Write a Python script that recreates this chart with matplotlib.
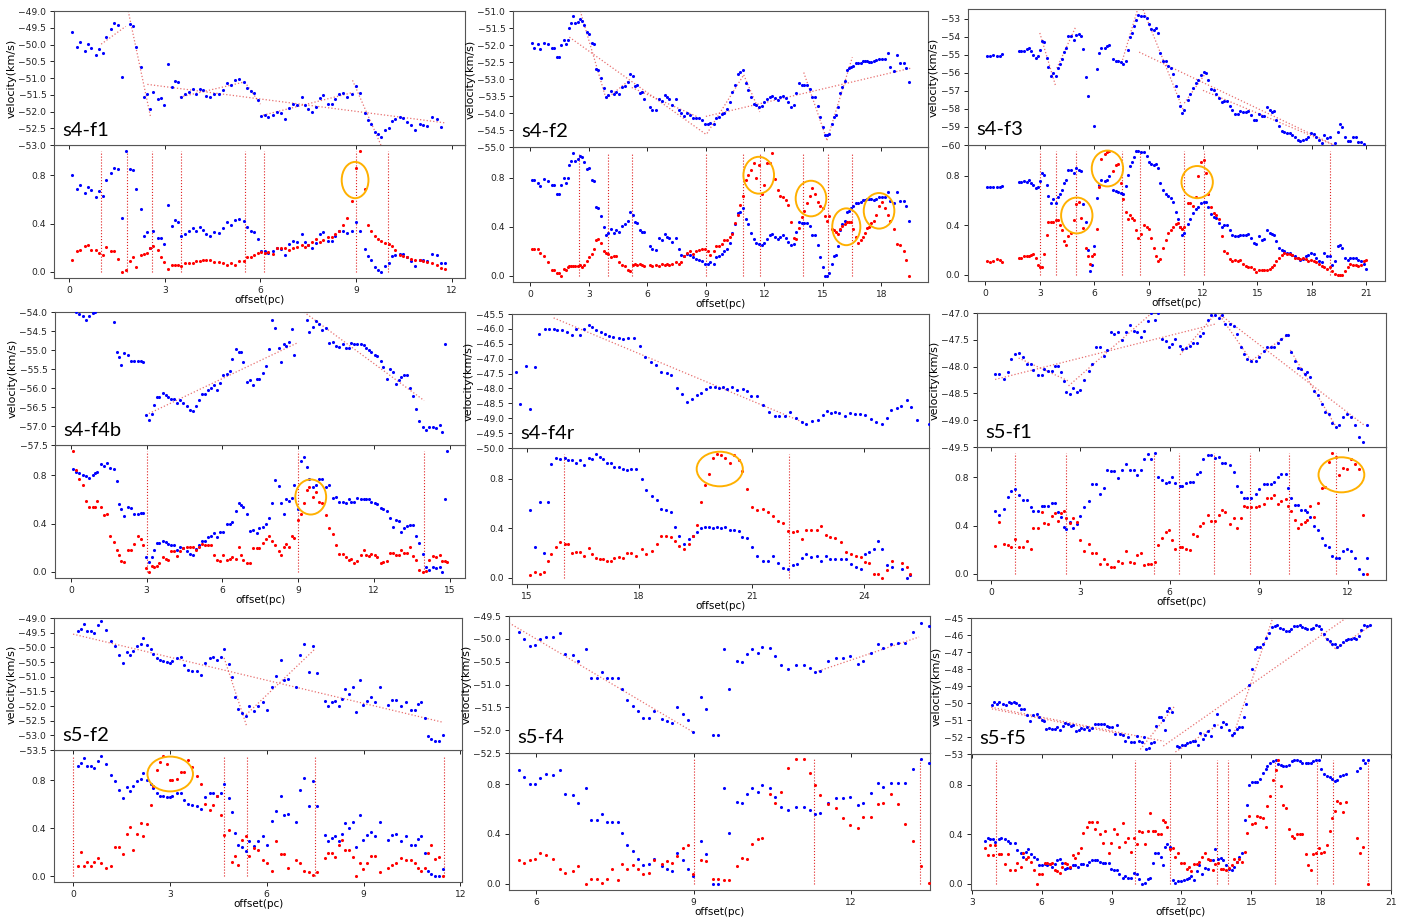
import numpy as np
import matplotlib
matplotlib.use('Agg')
import matplotlib.pyplot as plt
from matplotlib.patches import Ellipse
from matplotlib.ticker import MultipleLocator

nan = np.nan
W, H = 1413, 921

# ---------------- s4-f1 ----------------
s4f1_x = [0.1, 0.24, 0.35, 0.48, 0.59, 0.69, 0.83, 0.92, 1.06, 1.16,
          1.3, 1.4, 1.53, 1.64, 1.79, 1.9, 2.0, 2.1, 2.24, 2.35,
          2.44, 2.54, 2.64, 2.79, 2.88, 2.97, 3.11, 3.21, 3.32, 3.41,
          3.51, 3.64, 3.75, 3.88, 3.99, 4.09, 4.19, 4.29, 4.42, 4.55,
          4.69, 4.83, 4.96, 5.07, 5.2, 5.34, 5.48, 5.58, 5.69, 5.79,
          5.92, 6.02, 6.15, 6.25, 6.38, 6.51, 6.64, 6.77, 6.91, 7.02,
          7.15, 7.29, 7.39, 7.5, 7.63, 7.74, 7.87, 7.97, 8.12, 8.24,
          8.35, 8.45, 8.59, 8.72, 8.86, 8.99, 9.13, 9.27, 9.37, 9.48,
          9.58, 9.68, 9.78, 9.92, 10.02, 10.13, 10.23, 10.37, 10.47, 10.6,
          10.72, 10.86, 11.0, 11.1, 11.24, 11.37, 11.53, 11.66, 11.8]
s4f1_vel = [-49.63, -50.06, -49.93, -50.19, -49.99, -50.11, -50.31, -50.13, -50.24, -49.77,
            -49.55, -49.36, -49.42, -50.97, nan, -49.39, -49.45, -50.06, -50.68, -51.56,
            -51.49, -51.94, -51.41, -51.64, -51.61, -51.82, -50.59, -51.26, -51.08, -51.12,
            -51.58, -51.49, -51.41, -51.34, -51.47, -51.32, -51.37, -51.55, -51.57, -51.47,
            -51.49, -51.37, -51.15, -51.21, -51.06, -51.02, -51.11, -51.31, -51.39, -51.46,
            -51.66, -52.12, -52.1, -52.16, -52.11, -52.0, -52.05, -52.23, -51.9, -51.77,
            -51.8, -51.58, -51.8, -51.94, -52.01, -51.86, -51.59, -51.5, -51.77, -51.77,
            -51.64, -51.49, -51.46, -51.56, -51.47, -51.23, -51.46, -52.04, -52.26, -52.38,
            -52.61, -52.67, -52.75, -52.56, -52.49, -52.28, -52.21, -52.17, -52.19, -52.31,
            -52.41, -52.56, -52.37, -52.39, -52.42, -52.17, -52.22, -52.47, nan]
s4f1_blue = [0.80, 0.69, 0.72, 0.65, 0.70, 0.68, 0.62, 0.67, 0.63, 0.76,
             0.82, 0.86, 0.85, 0.45, 1.0, 0.855, 0.84, 0.69, 0.52, 0.30,
             0.33, 0.20, 0.34, 0.28, 0.28, 0.23, 0.55, 0.38, 0.43, 0.41,
             0.30, 0.31, 0.34, 0.36, 0.34, 0.37, 0.35, 0.31, 0.30, 0.33,
             0.32, 0.36, 0.41, 0.39, 0.43, 0.44, 0.42, 0.37, 0.34, 0.33,
             0.27, 0.17, 0.17, 0.16, 0.17, 0.20, 0.19, 0.14, 0.23, 0.26,
             0.25, 0.31, 0.25, 0.22, 0.20, 0.24, 0.31, 0.33, 0.26, 0.26,
             0.30, 0.34, 0.34, 0.32, 0.34, 0.41, 0.34, 0.19, 0.13, 0.10,
             0.04, 0.02, 0.0, 0.05, 0.07, 0.13, 0.14, 0.15, 0.15, 0.12,
             0.09, 0.05, 0.10, 0.10, 0.09, 0.15, 0.14, 0.07, 0.07]
s4f1_red = [0.10, 0.17, 0.18, 0.215, 0.225, 0.18, 0.185, 0.16, 0.14, 0.21,
            0.17, 0.17, 0.11, 0.0, 0.02, 0.09, 0.12, 0.04, 0.14, 0.15,
            0.16, 0.20, 0.215, 0.18, 0.12, 0.08, 0.025, 0.06, 0.06, 0.06,
            0.05, 0.07, 0.07, 0.075, 0.09, 0.09, 0.10, 0.10, 0.10, 0.08,
            0.08, 0.07, 0.055, 0.07, 0.055, 0.09, 0.09, 0.12, 0.12, 0.14,
            0.16, 0.165, 0.16, 0.165, 0.15, 0.20, 0.195, 0.20, 0.185, 0.20,
            0.205, 0.22, 0.205, 0.22, 0.245, 0.27, 0.25, 0.265, 0.29, 0.285,
            0.31, 0.34, 0.39, 0.45, 0.59, 0.86, 1.0, 0.69, 0.39, 0.335,
            0.30, 0.27, 0.26, 0.24, 0.23, 0.215, 0.185, 0.14, 0.13, 0.12,
            0.11, 0.10, 0.10, 0.09, 0.08, 0.075, 0.055, 0.03, 0.025]
s4f1_fits = [(1.0, -49.99, 1.77, -49.46), (1.85, -49.0, 2.55, -52.16),
             (2.45, -51.19, 11.8, -52.34), (3.47, -51.57, 5.49, -51.12),
             (5.51, -51.12, 6.0, -51.78), (6.08, -52.11, 8.91, -51.43),
             (8.89, -51.07, 9.78, -53.0)]
s4f1_cuts = [1.0, 1.8, 2.6, 3.5, 5.5, 6.1, 9.0, 10.0]
s4f1_rings = [(8.97, 0.76, 0.84, 0.30)]

# ---------------- s4-f2 ----------------
s4f2_x = [0.07, 0.17, 0.38, 0.51, 0.72, 0.92, 1.13, 1.23, 1.37, 1.47,
          1.57, 1.71, 1.81, 1.91, 2.0, 2.1, 2.21, 2.31, 2.43, 2.53,
          2.65, 2.75, 2.91, 3.01, 3.15, 3.25, 3.38, 3.49, 3.64, 3.79,
          3.9, 4.0, 4.14, 4.27, 4.41, 4.55, 4.7, 4.85, 5.0, 5.11,
          5.25, 5.35, 5.47, 5.61, 5.71, 5.81, 6.12, 6.22, 6.43, 6.6,
          6.77, 6.91, 7.01, 7.13, 7.28, 7.49, 7.62, 7.73, 7.9, 8.05,
          8.21, 8.36, 8.51, 8.67, 8.82, 8.96, 9.09, 9.23, 9.4, 9.54,
          9.68, 9.81, 9.95, 10.09, 10.22, 10.36, 10.5, 10.63, 10.77, 10.91,
          11.04, 11.18, 11.32, 11.45, 11.59, 11.73, 11.86, 12.0, 12.14, 12.27,
          12.41, 12.55, 12.68, 12.82, 12.96, 13.09, 13.23, 13.37, 13.5, 13.64,
          13.78, 13.91, 14.05, 14.19, 14.32, 14.46, 14.6, 14.74, 14.87, 15.01,
          15.11, 15.21, 15.32, 15.45, 15.59, 15.69, 15.79, 15.9, 16.0, 16.14,
          16.24, 16.34, 16.44, 16.55, 16.68, 16.82, 16.96, 17.06, 17.16, 17.26,
          17.37, 17.47, 17.6, 17.74, 17.88, 18.03, 18.17, 18.36, 18.46, 18.63,
          18.8, 18.97, 19.15, 19.28, 19.42]
s4f2_vel = [-51.95, -52.09, -51.96, -52.13, -51.93, -51.96, -52.1, -52.1, -52.34, -52.34,
            -52.01, -51.85, -51.98, -51.85, -51.49, -51.35, -51.15, -51.35, -51.32, -51.23,
            -51.28, -51.42, -51.63, -51.67, -51.95, -51.98, -52.71, -52.73, -52.96, -53.25,
            -53.52, -53.47, -53.35, -53.45, -53.37, -53.43, -53.24, -53.22, -53.1, -52.84,
            -52.91, -53.2, -53.17, -53.42, -53.37, -53.6, -53.82, -53.92, -53.92, -53.59,
            -53.64, -53.47, -53.54, -53.59, -53.75, -53.6, -53.92, -53.99, -54.09, -54.01,
            -54.06, -54.14, -54.15, -54.16, -54.21, -54.33, -54.31, -54.29, -54.31, -54.16,
            -54.13, -54.03, -53.99, -53.87, -53.69, -53.39, -53.18, -52.85, -52.8, -52.73,
            -53.13, -53.33, -53.54, -53.74, -53.75, -53.82, -53.78, -53.69, -53.6, -53.52,
            -53.5, -53.56, -53.61, -53.54, -53.5, -53.56, -53.68, -53.82, -53.76, -53.42,
            -53.11, -53.18, -53.18, -53.18, -53.28, -53.52, -53.54, -53.8, -54.13, -54.41,
            -54.66, -54.66, -54.61, -54.31, -54.11, -54.06, -53.82, -53.4, -53.23, -53.05,
            -52.73, -52.69, -52.66, -52.61, -52.52, -52.52, -52.52, -52.47, -52.47, -52.47,
            -52.49, -52.49, -52.46, -52.44, -52.42, -52.42, -52.42, -52.24, -52.64, -52.75,
            -52.29, -52.54, -52.54, -52.68, -53.08]
s4f2_blue = [0.78, 0.78, 0.76, 0.73, 0.79, 0.77, 0.74, 0.74, 0.67, 0.67,
             0.74, 0.80, 0.76, 0.80, 0.90, 0.94, 1.0, 0.94, 0.95, 0.98,
             0.97, 0.93, 0.87, 0.88, 0.78, 0.77, 0.56, 0.55, 0.49, 0.40,
             0.33, 0.35, 0.38, 0.35, 0.37, 0.36, 0.41, 0.42, 0.45, 0.52,
             0.50, 0.44, 0.43, 0.37, 0.36, 0.36, 0.24, 0.22, 0.21, 0.31,
             0.29, 0.34, 0.32, 0.31, 0.28, 0.31, 0.22, 0.17, 0.16, 0.18,
             0.17, 0.15, 0.14, 0.13, 0.12, 0.10, 0.10, 0.11, 0.10, 0.15,
             0.16, 0.18, 0.20, 0.22, 0.27, 0.35, 0.42, 0.51, 0.52, 0.55,
             0.46, 0.42, 0.35, 0.30, 0.27, 0.26, 0.25, 0.27, 0.30, 0.33,
             0.34, 0.32, 0.30, 0.32, 0.33, 0.31, 0.28, 0.25, 0.26, 0.36,
             0.44, 0.43, 0.43, 0.43, 0.41, 0.33, 0.33, 0.25, 0.15, 0.07,
             0.0, 0.0, 0.02, 0.10, 0.16, 0.17, 0.24, 0.37, 0.42, 0.45,
             0.52, 0.53, 0.55, 0.57, 0.59, 0.59, 0.60, 0.62, 0.62, 0.63,
             0.63, 0.63, 0.62, 0.63, 0.64, 0.64, 0.64, 0.68, 0.61, 0.59,
             0.68, 0.61, 0.61, 0.57, 0.45]
s4f2_red = [0.22, 0.22, 0.22, 0.19, 0.16, 0.11, 0.05, 0.05, 0.02, 0.02,
            0.0, 0.06, 0.05, 0.07, 0.08, 0.08, 0.08, 0.08, 0.08, 0.09,
            0.07, 0.09, 0.12, 0.15, 0.18, 0.22, 0.29, 0.30, 0.27, 0.20,
            0.19, 0.18, 0.15, 0.16, 0.16, 0.11, 0.09, 0.08, 0.05, 0.04,
            0.09, 0.10, 0.09, 0.10, 0.09, 0.08, 0.09, 0.08, 0.09, 0.08,
            0.10, 0.09, 0.10, 0.09, 0.10, 0.11, 0.10, 0.11, 0.16, 0.19,
            0.20, 0.18, 0.20, 0.21, 0.22, 0.22, 0.20, 0.17, 0.20, 0.24,
            0.24, 0.26, 0.29, 0.29, 0.32, 0.34, 0.43, 0.50, 0.58, 0.65,
            0.78, 0.82, 0.86, 0.92, 0.80, 0.90, 0.67, 0.74, 0.92, 0.92,
            1.0, 0.79, 0.70, 0.65, 0.64, 0.62, 0.58, 0.44, 0.31, 0.30,
            0.39, 0.48, 0.53, 0.59, 0.65, 0.72, 0.67, 0.60, 0.57, 0.55,
            0.49, 0.45, 0.49, 0.38, 0.37, 0.36, 0.34, 0.38, 0.41, 0.42,
            0.44, 0.44, 0.44, 0.38, 0.32, 0.27, 0.29, 0.32, 0.35, 0.39,
            0.40, 0.43, 0.45, 0.50, 0.57, 0.60, 0.55, 0.50, 0.45, 0.38,
            0.26, 0.25, 0.20, 0.13, 0.0]
s4f2_fits = [(2.0, -51.77, 9.06, -54.65), (2.56, -51.0, 3.85, -53.52),
             (3.9, -53.58, 5.09, -53.03), (5.2, -53.25, 8.6, -54.12),
             (9.0, -54.1, 19.52, -52.68), (9.06, -54.6, 10.94, -52.88),
             (10.94, -52.88, 11.76, -53.97), (14.02, -52.81, 15.21, -54.8),
             (15.21, -54.8, 16.51, -52.36)]
s4f2_cuts = [2.5, 4.0, 5.2, 9.0, 10.9, 11.8, 14.0, 15.25, 16.5]
s4f2_rings = [(11.71, 0.82, 1.57, 0.30), (14.39, 0.63, 1.57, 0.29),
              (16.2, 0.40, 1.44, 0.30), (17.88, 0.53, 1.57, 0.29)]

# ---------------- s4-f3 ----------------
s4f3_x = [0.07, 0.26, 0.44, 0.63, 0.81, 0.92,
          1.86, 1.99, 2.13, 2.28, 2.41, 2.54, 2.65, 2.78, 2.91, 3.02,
          3.11, 3.24, 3.37, 3.48, 3.62, 3.75, 3.9, 3.99, 4.1, 4.23,
          4.34, 4.45, 4.56, 4.71, 4.88, 5.02, 5.15, 5.3, 5.41, 5.56,
          5.67, 5.78, 5.89, 6.0, 6.13, 6.24, 6.38, 6.59, 6.73, 6.84,
          7.05, 7.19, 7.34, 7.47, 7.6, 7.73, 7.84, 7.95, 8.06, 8.17,
          8.28, 8.43, 8.57, 8.72, 8.89, 9.02, 9.14, 9.31, 9.42, 9.53,
          9.64, 9.79, 9.94, 10.08, 10.23, 10.36, 10.49, 10.6, 10.71, 10.86,
          10.98, 11.15, 11.3, 11.44, 11.59, 11.74, 11.89, 12.03, 12.14, 12.29,
          12.44, 12.59, 12.73, 12.88, 13.03, 13.17, 13.32, 13.47, 13.62, 13.76,
          13.91, 14.06, 14.2, 14.35, 14.5, 14.65, 14.79, 14.94, 15.09, 15.23,
          15.38, 15.53, 15.68, 15.79, 15.9, 16.04, 16.19, 16.34, 16.49, 16.63,
          16.78, 16.93, 17.07, 17.22, 17.37, 17.52, 17.66, 17.81, 17.96, 18.11,
          18.25, 18.4, 18.55, 18.69, 18.84, 18.99, 19.14, 19.28, 19.43, 19.54,
          19.69, 19.83, 19.98, 20.13, 20.28, 20.42, 20.57, 20.72, 20.86, 21.0]
s4f3_vel = [-55.07, -55.07, -55.03, -55.07, -55.07, -54.96,
            -54.79, -54.79, -54.77, -54.68, -54.63, -54.77, -55.01, -55.2, -55.09, -54.72,
            -54.22, -54.31, -55.18, -55.66, -56.18, -55.99, -56.16, -55.75, -55.51, -55.24,
            -54.85, -54.63, -53.98, -53.98, -54.2, -53.89, -53.85, -53.98, -54.68, -56.23,
            -57.29, nan, nan, -58.95, -55.77, -54.92, -54.63, -54.63, -54.53, -54.44,
            -55.22, -55.37, -55.37, -55.4, -55.51, -55.33, -54.72, -54.02, -53.79, -53.43,
            -53.06, -52.8, -52.87, -52.87, -52.96, -53.3, -53.57, -53.61, -53.52, -53.79,
            -54.9, -55.33, -55.37, -55.61, -55.74, -56.05, -56.75, -57.31, -57.82, -58.23,
            -58.05, -57.53, -57.18, -56.84, -56.57, -56.38, -56.1, -55.98, -56.01, -56.42,
            -56.9, -56.97, -57.18, -57.4, -57.64, -57.55, -57.58, -57.82, -58.05, -58.27,
            -58.27, -58.14, -58.16, -58.16, -58.12, -58.34, -58.6, -58.6, -58.3, -58.41,
            -58.41, -57.9, -58.05, -58.16, -58.12, -58.6, -58.97, -59.25, -59.28, -59.34,
            -59.34, -59.43, -59.53, -59.71, -59.8, -59.75, -59.64, -59.56, -59.34, -59.38,
            -59.53, -59.75, -59.89, -59.45, -59.62, -59.53, -60.04, -59.89, -59.3, -58.82,
            -59.01, -59.58, -59.78, -59.8, -59.58, -59.58, -59.82, -59.86, -59.95, nan]
s4f3_blue = [0.71, 0.71, 0.71, 0.71, 0.71, 0.72,
             0.75, 0.75, 0.76, 0.75, 0.77, 0.74, 0.73, 0.70, 0.71, 0.76,
             0.82, 0.81, 0.73, 0.64, 0.58, 0.61, 0.58, 0.63, 0.65, 0.69,
             0.74, 0.77, 0.85, 0.85, 0.82, 0.86, 0.85, 0.84, 0.57, 0.43,
             0.20, 0.03, 0.08, 0.23, 0.62, 0.73, 0.77, 0.76, 0.77, 0.80,
             0.69, 0.68, 0.67, 0.66, 0.65, 0.72, 0.81, 0.88, 0.91, 0.95,
             1.0, 1.0, 0.99, 0.99, 0.96, 0.91, 0.90, 0.89, 0.90, 0.86,
             0.74, 0.69, 0.65, 0.64, 0.62, 0.59, 0.51, 0.45, 0.39, 0.32,
             0.34, 0.41, 0.45, 0.50, 0.53, 0.55, 0.58, 0.59, 0.59, 0.55,
             0.49, 0.47, 0.46, 0.42, 0.39, 0.40, 0.40, 0.36, 0.32, 0.31,
             0.31, 0.32, 0.32, 0.32, 0.33, 0.30, 0.26, 0.25, 0.31, 0.28,
             0.29, 0.36, 0.34, 0.33, 0.32, 0.27, 0.22, 0.20, 0.19, 0.18,
             0.18, 0.16, 0.15, 0.14, 0.12, 0.13, 0.15, 0.16, 0.18, 0.17,
             0.14, 0.11, 0.10, 0.18, 0.15, 0.15, 0.08, 0.11, 0.23, 0.24,
             0.22, 0.14, 0.12, 0.14, 0.14, 0.14, 0.12, 0.11, 0.09, 0.05]
s4f3_red = [0.11, 0.10, 0.11, 0.13, 0.12, 0.10,
            0.14, 0.14, 0.15, 0.15, 0.15, 0.16, 0.17, 0.14, 0.08, 0.06,
            0.06, 0.17, 0.32, 0.43, 0.43, 0.43, 0.44, 0.44, 0.40, 0.36,
            0.27, 0.24, 0.31, 0.34, 0.44, 0.57, 0.59, 0.46, 0.38, 0.22,
            0.15, 0.09, 0.15, 0.17, 0.37, 0.71, 0.94, 0.98, 0.99, 1.0,
            0.84, 0.89, 0.90, 0.74, 0.61, 0.51, 0.45, 0.48, 0.46, 0.44,
            0.36, 0.30, 0.33, 0.40, 0.39, 0.37, 0.30, 0.22, 0.15, 0.11,
            0.13, 0.22, 0.28, 0.34, 0.36, 0.39, 0.41, 0.42, 0.39, 0.37,
            0.39, 0.58, 0.58, 0.56, 0.63, 0.80, 0.91, 0.93, 0.82, 0.65,
            0.55, 0.50, 0.48, 0.45, 0.31, 0.19, 0.18, 0.13, 0.11, 0.12,
            0.11, 0.12, 0.09, 0.07, 0.06, 0.06, 0.05, 0.02, 0.04, 0.04,
            0.04, 0.04, 0.05, 0.06, 0.08, 0.11, 0.14, 0.16, 0.18, 0.17,
            0.17, 0.16, 0.14, 0.14, 0.13, 0.14, 0.13, 0.11, 0.12, 0.11,
            0.10, 0.09, 0.07, 0.06, 0.05, 0.06, 0.03, 0.01, 0.0, 0.0,
            0.0, 0.03, 0.06, 0.09, 0.08, 0.08, 0.07, 0.08, 0.11, 0.12]
s4f3_fits = [(3.0, -53.79, 3.88, -56.75), (3.94, -55.74, 4.99, -53.43),
             (7.51, -55.46, 8.39, -52.5), (8.7, -52.5, 10.91, -58.05),
             (8.48, -54.85, 19.28, -60.02), (10.97, -57.68, 12.2, -55.94),
             (12.0, -56.97, 19.25, -60.02)]
s4f3_cuts = [3.0, 3.9, 5.02, 7.51, 8.52, 10.98, 12.03, 19.0]
s4f3_rings = [(5.04, 0.48, 1.73, 0.29), (6.73, 0.86, 1.73, 0.29), (11.68, 0.75, 1.73, 0.26)]

# ---------------- s4-f4b ----------------
s4f4b_x = [0.1, 0.22, 0.33, 0.46, 0.59, 0.73, 0.86, 0.95, 1.05, 1.18,
           1.3, 1.43, 1.56, 1.7, 1.81, 1.9, 2.0, 2.1, 2.25, 2.38,
           2.51, 2.64, 2.77, 2.87, 2.97, 3.09, 3.2, 3.29, 3.4, 3.5,
           3.63, 3.75, 3.86, 3.96, 4.08, 4.21, 4.32, 4.45, 4.58, 4.72,
           4.85, 4.95, 5.09, 5.19, 5.32, 5.43, 5.54, 5.67, 5.8, 5.9,
           6.04, 6.17, 6.3, 6.38, 6.54, 6.64, 6.72, 6.83, 6.96, 7.09,
           7.23, 7.36, 7.46, 7.6, 7.73, 7.83, 7.97, 8.07, 8.23, 8.34,
           8.44, 8.52, 8.63, 8.76, 8.85, 9.0, 9.1, 9.22, 9.34, 9.45,
           9.58, 9.71, 9.84, 9.96, 10.11, 10.24, 10.37, 10.5, 10.63, 10.77,
           10.9, 11.0, 11.08, 11.22, 11.35, 11.48, 11.59, 11.69, 11.8, 11.9,
           12.03, 12.14, 12.27, 12.38, 12.54, 12.64, 12.75, 12.88, 12.99, 13.09,
           13.2, 13.3, 13.43, 13.57, 13.67, 13.8, 13.94, 14.07, 14.2, 14.33,
           14.46, 14.6, 14.7, 14.81, 14.9]
s4f4b_vel = [nan, -54.01, -54.04, -54.11, -54.2, -54.1, -54.03, -54.0, nan, nan,
             nan, nan, nan, -54.27, -55.04, -55.19, -55.39, -55.08, -55.14, -55.3,
             -55.3, -55.28, -55.3, -55.31, -56.7, -56.83, -56.68, -56.46, -56.24, -56.24,
             -56.14, -56.18, -56.23, -56.29, -56.29, -56.39, -56.31, -56.39, -56.48, -56.57,
             -56.6, -56.48, -56.31, -56.15, -56.15, -56.04, -56.0, -55.91, -56.04, -55.87,
             -55.65, -55.63, -55.56, -55.23, -54.97, -55.04, -55.06, -55.32, -55.85, -55.78,
             -55.91, -55.76, -55.75, -55.61, -55.43, -54.97, -54.22, -54.43, -54.95, -55.32,
             -54.83, -54.9, -54.8, -54.44, -55.12, nan, nan, nan, -54.21, -54.52,
             -54.39, -54.24, -54.31, -54.48, -54.41, -54.81, -54.8, -54.9, -54.92, -54.84,
             -54.95, -54.95, -54.82, -54.84, -54.84, -54.83, -54.86, -54.95, -54.99, -55.04,
             -55.12, -55.17, -55.3, -55.46, -55.75, -55.49, -55.59, -55.89, -55.78, -55.71,
             -55.67, -55.67, -56.0, -56.22, -56.55, -56.86, -57.02, -57.1, -57.03, -57.03,
             -57.04, -56.98, -57.16, -54.85, nan]
s4f4b_blue = [0.85, 0.83, 0.82, 0.80, 0.79, 0.78, 0.80, 0.82, 0.83, 0.89,
              0.88, 0.90, 0.86, 0.85, 0.75, 0.56, 0.52, 0.46, 0.54, 0.53,
              0.48, 0.48, 0.49, 0.49, 0.12, 0.08, 0.12, 0.18, 0.24, 0.24,
              0.26, 0.25, 0.23, 0.22, 0.22, 0.18, 0.21, 0.20, 0.17, 0.15,
              0.14, 0.19, 0.22, 0.26, 0.26, 0.29, 0.30, 0.32, 0.29, 0.33,
              0.33, 0.40, 0.40, 0.41, 0.50, 0.57, 0.55, 0.54, 0.48, 0.34,
              0.35, 0.32, 0.36, 0.37, 0.40, 0.45, 0.57, 0.76, 0.71, 0.57,
              0.48, 0.60, 0.59, 0.61, 0.72, 0.52, 0.92, 0.95, 0.87, 0.77,
              0.70, 0.72, 0.77, 0.77, 0.70, 0.72, 0.61, 0.62, 0.58, 0.58,
              0.57, 0.60, 0.58, 0.58, 0.61, 0.60, 0.60, 0.60, 0.60, 0.58,
              0.57, 0.56, 0.53, 0.52, 0.50, 0.45, 0.37, 0.43, 0.42, 0.33,
              0.36, 0.38, 0.39, 0.39, 0.30, 0.24, 0.15, 0.04, 0.02, 0.04,
              0.03, 0.04, 0.0, 0.60, 1.0]
s4f4b_red = [1.0, 0.84, 0.77, 0.72, 0.59, 0.54, 0.54, 0.54, 0.59, 0.54,
             0.47, 0.48, 0.30, 0.25, 0.18, 0.14, 0.09, 0.08, 0.18, 0.18,
             0.23, 0.30, 0.27, 0.22, 0.03, 0.0, 0.05, 0.04, 0.05, 0.07,
             0.12, 0.11, 0.10, 0.17, 0.17, 0.13, 0.17, 0.20, 0.21, 0.21,
             0.21, 0.18, 0.21, 0.23, 0.22, 0.22, 0.22, 0.14, 0.10, 0.09,
             0.14, 0.10, 0.11, 0.12, 0.11, 0.21, 0.14, 0.10, 0.07, 0.07,
             0.20, 0.20, 0.20, 0.24, 0.27, 0.30, 0.26, 0.22, 0.17, 0.14,
             0.21, 0.23, 0.21, 0.30, 0.28, 0.43, 0.48, 0.57, 0.68, 0.70,
             0.62, 0.66, 0.58, 0.57, 0.47, 0.36, 0.31, 0.22, 0.15, 0.15,
             0.12, 0.10, 0.11, 0.07, 0.09, 0.14, 0.18, 0.14, 0.13, 0.15,
             0.14, 0.12, 0.07, 0.08, 0.09, 0.16, 0.16, 0.14, 0.14, 0.18,
             0.16, 0.16, 0.21, 0.13, 0.10, 0.02, 0.0, 0.01, 0.10, 0.13,
             0.12, 0.14, 0.09, 0.09, 0.08]
s4f4b_fits = [(2.97, -56.71, 9.01, -54.8), (9.23, -54.0, 13.99, -56.33)]
s4f4b_cuts = [3.0, 9.0, 14.0]
s4f4b_rings = [(9.5, 0.62, 1.22, 0.29)]

# ---------------- s4-f4r ----------------
s4f4r_x = [14.72, 14.83, 14.99, 15.1, 15.22, 15.33, 15.48, 15.6, 15.72, 15.81,
           15.93, 16.08, 16.2, 16.31, 16.41, 16.53, 16.65, 16.75, 16.86, 16.97,
           17.08, 17.2, 17.3, 17.46, 17.57, 17.71, 17.85, 18.02, 18.16, 18.31,
           18.46, 18.59, 18.73, 18.86, 19.01, 19.13, 19.27, 19.4, 19.54, 19.65,
           19.78, 19.88, 20.01, 20.12, 20.24, 20.35, 20.49, 20.62, 20.76, 20.88,
           20.99, 21.15, 21.3, 21.46, 21.61, 21.74, 21.89, 22.02, 22.19, 22.34,
           22.46, 22.62, 22.76, 22.89, 23.0, 23.11, 23.23, 23.34, 23.49, 23.61,
           23.76, 23.89, 24.03, 24.18, 24.33, 24.49, 24.6, 24.72, 24.87, 24.99,
           25.13, 25.26, 25.4, 25.72]
s4f4r_vel = [-47.45, -48.53, -47.25, -48.7, -47.28, -46.16, -46.0, -46.02, -46.0, -46.05,
             -46.05, -46.1, -46.19, -46.02, -46.19, -46.0, -45.87, -45.93, -46.05, -46.12,
             -46.16, -46.25, -46.27, -46.32, -46.35, -46.3, -46.3, -46.58, -46.94, -47.1,
             -47.21, -47.44, -47.47, -47.55, -47.97, -48.19, -48.46, -48.35, -48.22, -48.14,
             -48.01, -47.96, -47.96, -48.0, -47.96, -48.03, -47.96, -48.05, -48.03, -48.09,
             -48.27, -48.27, -48.55, -48.79, -48.93, -48.93, -48.93, -48.8, -49.0, -49.14,
             -49.19, -49.08, -49.05, -48.89, -48.75, -48.83, -48.79, -48.83, -48.92, -48.81,
             -48.87, -48.87, -48.89, -49.03, -49.12, -49.19, -49.0, -48.74, -48.66, -48.58,
             -48.38, -48.61, -49.05, -49.19]
s4f4r_xb = [15.1, 15.22, 15.35, 15.45, 15.56, 15.65, 15.79, 15.9, 16.02, 16.1,
            16.2, 16.31, 16.43, 16.54, 16.65, 16.75, 16.84, 16.95, 17.04, 17.14,
            17.25, 17.34, 17.45, 17.57, 17.68, 17.78, 17.91, 18.07, 18.19, 18.34,
            18.48, 18.59, 18.71, 18.84, 18.96, 19.07, 19.19, 19.32, 19.44, 19.55,
            19.65, 19.76, 19.87, 19.97, 20.08, 20.19, 20.29, 20.42, 20.54, 20.65,
            20.74, 20.88, 21.02, 21.15, 21.31, 21.43, 21.56, 21.7, 21.84, 21.97,
            22.09, 22.22, 22.34, 22.46, 22.59, 22.73, 22.86, 22.98, 23.1, 23.23,
            23.37, 23.51, 23.64, 23.78, 23.91, 24.01, 24.14, 24.26, 24.37, 24.48,
            24.6, 24.74, 25.0, 25.13, 25.22]
s4f4r_blue = [0.55, 0.25, 0.61, 0.20, 0.61, 0.92, 0.97, 0.96, 0.97, 0.95,
              0.95, 0.93, 0.955, 0.91, 0.97, 0.965, 1.0, 0.98, 0.96, 0.93,
              0.93, 0.90, 0.90, 0.88, 0.87, 0.88, 0.88, 0.80, 0.71, 0.66,
              0.63, 0.56, 0.55, 0.53, 0.41, 0.34, 0.27, 0.31, 0.34, 0.37,
              0.40, 0.41, 0.41, 0.40, 0.41, 0.40, 0.41, 0.39, 0.39, 0.38,
              0.33, 0.32, 0.25, 0.18, 0.14, 0.14, 0.18, 0.12, 0.08, 0.07,
              0.10, 0.11, 0.16, 0.19, 0.17, 0.18, 0.14, 0.18, 0.15, 0.15,
              0.15, 0.15, 0.11, 0.09, 0.07, 0.19, 0.21, 0.23, 0.30, 0.23,
              0.10, 0.09, 0.07, 0.0, 0.02]
s4f4r_red = [0.02, 0.05, 0.03, 0.05, 0.14, 0.19, 0.25, 0.29, 0.27, 0.27,
             0.20, 0.21, 0.21, 0.18, 0.24, 0.19, 0.16, 0.15, 0.15, 0.14,
             0.14, 0.16, 0.17, 0.16, 0.20, 0.20, 0.18, 0.23, 0.19, 0.22,
             0.27, 0.34, 0.34, 0.33, 0.30, 0.26, 0.23, 0.27, 0.34, 0.43,
             0.61, 0.75, 0.84, 0.97, 1.0, 0.99, 0.97, 0.93, 0.99, 0.95,
             0.86, 0.72, 0.57, 0.55, 0.56, 0.53, 0.50, 0.46, 0.44, 0.38,
             0.37, 0.38, 0.31, 0.39, 0.39, 0.39, 0.42, 0.35, 0.33, 0.32,
             0.29, 0.21, 0.19, 0.18, 0.17, 0.13, 0.12, 0.03, 0.03, 0.0,
             0.06, 0.14, 0.12, 0.09, 0.03]
s4f4r_fits = [(15.72, -45.63, 22.38, -49.14)]
s4f4r_cuts = [16.0, 22.0]
s4f4r_rings = [(20.15, 0.88, 1.23, 0.28)]

# ---------------- s5-f1 ----------------
s5f1_x = [0.11, 0.27, 0.43, 0.56, 0.65, 0.81, 0.94, 1.07, 1.19, 1.32,
          1.41, 1.56, 1.7, 1.79, 1.92, 2.03, 2.13, 2.24, 2.33, 2.44,
          2.53, 2.65, 2.76, 2.87, 3.0, 3.13, 3.29, 3.4, 3.52, 3.67,
          3.78, 3.9, 4.03, 4.14, 4.28, 4.41, 4.52, 4.66, 4.79, 4.9,
          5.04, 5.13, 5.26, 5.37, 5.51, 5.62, 5.75, 5.89, 5.98, 6.07,
          6.18, 6.34, 6.43, 6.54, 6.67, 6.78, 6.92, 7.03, 7.14, 7.28,
          7.39, 7.52, 7.66, 7.77, 7.88, 8.02, 8.15, 8.26, 8.4, 8.51,
          8.62, 8.75, 8.89, 9.02, 9.16, 9.27, 9.4, 9.52, 9.63, 9.76,
          9.9, 9.99, 10.1, 10.21, 10.32, 10.43, 10.55, 10.61, 10.72, 10.86,
          10.99, 11.13, 11.24, 11.35, 11.46, 11.6, 11.71, 11.85, 11.98, 12.11,
          12.25, 12.38, 12.52, 12.65]
s5f1_vel = [-48.14, -48.14, -48.24, -48.11, -47.85, -47.76, -47.74, -47.83, -47.96, -47.96,
            -48.06, -48.16, -48.16, -48.04, -48.08, -48.08, -47.98, -47.99, -48.1, -48.27,
            -48.47, -48.52, -48.39, -48.48, -48.43, -48.25, -48.08, -47.96, -47.63, -47.63,
            -47.81, -47.69, -47.36, -47.39, -47.36, -47.5, -47.36, -47.22, -47.34, -47.36,
            -47.44, -47.34, -47.14, -47.0, -47.13, -47.0, -47.48, -47.53, -47.63, -47.58,
            -47.49, -47.61, -47.68, -47.66, -47.61, -47.56, -47.56, -47.42, -47.38, -47.13,
            -47.04, -47.03, -47.09, -47.03, -47.2, -47.2, -47.24, -47.39, -47.64, -47.76,
            -47.86, -47.9, -47.89, -47.83, -47.7, -47.63, -47.63, -47.63, -47.56, -47.48,
            -47.41, -47.41, -47.72, -47.89, -48.03, -48.04, -48.13, -48.11, -48.19, -48.45,
            -48.53, -48.7, -48.84, -48.88, -49.05, -49.13, -49.09, -48.94, -48.89, -48.94,
            -49.09, -49.31, -49.41, -49.09]
s5f1_blue = [0.52, 0.49, 0.54, 0.64, 0.69, 0.70, 0.65, 0.61, 0.61, 0.55,
             0.52, 0.52, 0.56, 0.56, 0.56, 0.59, 0.59, 0.51, 0.47, 0.39,
             0.37, 0.43, 0.38, 0.41, 0.48, 0.55, 0.60, 0.74, 0.74, 0.66,
             0.71, 0.86, 0.85, 0.85, 0.79, 0.86, 0.91, 0.86, 0.86, 0.82,
             0.86, 0.95, 0.99, 0.95, 1.0, 0.80, 0.78, 0.75, 0.76, 0.80,
             0.75, 0.73, 0.73, 0.75, 0.76, 0.76, 0.83, 0.84, 0.95, 0.98,
             0.98, 0.96, 0.97, 0.92, 0.92, 0.90, 0.84, 0.73, 0.68, 0.63,
             0.63, 0.63, 0.66, 0.70, 0.74, 0.74, 0.74, 0.76, 0.80, 0.83,
             0.83, 0.71, 0.63, 0.57, 0.57, 0.53, 0.53, 0.51, 0.47, 0.40,
             0.36, 0.30, 0.24, 0.22, 0.15, 0.13, 0.13, 0.19, 0.21, 0.19,
             0.13, 0.04, 0.0, 0.13]
s5f1_red = [0.23, 0.43, 0.25, 0.24, 0.22, 0.29, 0.22, 0.22, 0.27, 0.21,
            0.38, 0.38, 0.51, 0.42, 0.41, 0.48, 0.50, 0.44, 0.50, 0.52,
            0.46, 0.42, 0.46, 0.43, 0.28, 0.19, 0.25, 0.17, 0.17, 0.08,
            0.12, 0.08, 0.06, 0.06, 0.11, 0.09, 0.19, 0.10, 0.09, 0.16,
            0.17, 0.07, 0.08, 0.08, 0.10, 0.24, 0.30, 0.35, 0.36, 0.28,
            0.21, 0.22, 0.22, 0.21, 0.20, 0.33, 0.31, 0.40, 0.42, 0.49,
            0.44, 0.44, 0.49, 0.53, 0.51, 0.41, 0.46, 0.38, 0.46, 0.56,
            0.55, 0.55, 0.55, 0.56, 0.58, 0.63, 0.63, 0.65, 0.58, 0.60,
            0.62, 0.56, 0.52, 0.45, 0.38, 0.41, 0.43, 0.45, 0.56, 0.47,
            0.59, 0.71, 0.72, 0.93, 1.0, 0.97, 0.82, 0.88, 0.87, 0.95,
            0.91, 0.87, 0.49, 0.0]
s5f1_fits = [(0.13, -48.24, 7.58, -47.2), (0.92, -47.84, 2.6, -48.27),
             (2.6, -48.36, 5.4, -47.0), (6.35, -47.78, 7.52, -47.03),
             (7.63, -47.0, 8.81, -47.94), (8.7, -47.91, 10.02, -47.39),
             (7.63, -47.0, 12.54, -49.09), (10.06, -47.69, 11.64, -49.16)]
s5f1_cuts = [0.8, 2.5, 5.49, 6.3, 7.5, 8.71, 10.02, 11.6]
s5f1_rings = [(11.78, 0.82, 1.54, 0.29)]

# ---------------- s5-f2 ----------------
s5f2_x = [0.14, 0.24, 0.34, 0.44, 0.55, 0.65, 0.76, 0.88, 1.01, 1.17,
          1.3, 1.41, 1.55, 1.66, 1.76, 1.86, 1.99, 2.09, 2.18, 2.29,
          2.4, 2.49, 2.6, 2.7, 2.79, 2.9, 3.0, 3.08, 3.21, 3.33,
          3.43, 3.57, 3.7, 3.84, 3.95, 4.09, 4.23, 4.34, 4.45, 4.58,
          4.68, 4.82, 4.91, 5.02, 5.11, 5.24, 5.35, 5.45, 5.6, 5.74,
          5.88, 6.01, 6.17, 6.3, 6.44, 6.54, 6.67, 6.91, 7.03, 7.16,
          7.31, 7.42, 7.55, 7.8, 7.9, 8.01, 8.11, 8.23, 8.34, 8.44,
          8.54, 8.67, 8.78, 8.88, 8.98, 9.1, 9.23, 9.35, 9.5, 9.77,
          9.89, 10.01, 10.17, 10.3, 10.46, 10.58, 10.69, 10.79, 10.89, 11.0,
          11.1, 11.22, 11.34, 11.46]
s5f2_vel = [-49.43, -49.36, -49.19, -49.43, -49.43, -49.5, -49.24, -49.09, -49.4, -49.77,
            -49.94, -50.25, -50.52, -50.17, -50.27, -50.11, -49.94, -49.88, -49.69, -49.93,
            -50.05, -50.23, -50.38, -50.42, -50.45, -50.5, -50.52, -50.48, -50.36, -50.34,
            -50.59, -50.77, -50.8, -50.8, -50.93, -50.53, -50.38, -50.34, -50.43, -50.34,
            -50.06, -50.57, -51.02, -51.7, -52.11, -52.25, -52.35, -52.0, -52.16, -51.99,
            -51.86, -52.15, -51.36, -50.99, -50.42, -51.13, -51.07, -51.35, -50.25, -49.88,
            -50.84, -49.97, -50.86, -51.82, -52.0, -51.88, -51.84, -51.99, -51.75, -51.42,
            -51.58, -51.34, -52.22, -51.13, -51.98, -51.84, -51.7, -51.86, -51.35, -51.98,
            -51.81, -51.78, -52.01, -51.86, -52.12, -52.12, -51.92, -51.85, -52.41, -53.01,
            -53.13, -53.18, -53.18, -52.98]
s5f2_blue = [0.92, 0.94, 0.98, 0.92, 0.92, 0.90, 0.96, 1.0, 0.93, 0.84,
             0.79, 0.72, 0.65, 0.74, 0.71, 0.75, 0.79, 0.81, 0.86, 0.80,
             0.77, 0.73, 0.69, 0.67, 0.67, 0.66, 0.66, 0.67, 0.69, 0.69,
             0.63, 0.60, 0.59, 0.58, 0.56, 0.66, 0.69, 0.69, 0.67, 0.69,
             0.77, 0.65, 0.53, 0.36, 0.26, 0.24, 0.21, 0.29, 0.25, 0.29,
             0.33, 0.26, 0.46, 0.54, 0.67, 0.51, 0.52, 0.45, 0.72, 0.82,
             0.58, 0.79, 0.58, 0.34, 0.29, 0.32, 0.33, 0.29, 0.35, 0.44,
             0.40, 0.45, 0.24, 0.51, 0.30, 0.34, 0.37, 0.33, 0.45, 0.30,
             0.34, 0.35, 0.29, 0.33, 0.26, 0.26, 0.31, 0.33, 0.19, 0.04,
             0.02, 0.0, 0.0, 0.06]
s5f2_red = [0.08, 0.20, 0.08, 0.12, 0.08, 0.12, 0.15, 0.11, 0.07, 0.08,
            0.24, 0.24, 0.18, 0.35, 0.41, 0.22, 0.35, 0.44, 0.33, 0.43,
            0.59, 0.75, 0.88, 0.95, 1.0, 0.93, 0.80, 0.80, 0.81, 0.87,
            0.87, 0.97, 0.91, 0.83, 0.77, 0.60, 0.55, 0.59, 0.67, 0.51,
            0.34, 0.38, 0.12, 0.17, 0.09, 0.30, 0.33, 0.17, 0.23, 0.22,
            0.13, 0.11, 0.04, 0.29, 0.18, 0.18, 0.07, 0.13, 0.11, 0.04,
            0.03, 0.01, 0.03, 0.15, 0.19, 0.19, 0.16, 0.26, 0.30, 0.22,
            0.22, 0.16, 0.0, 0.11, 0.06, 0.11, 0.17, 0.17, 0.03, 0.07,
            0.09, 0.11, 0.15, 0.13, 0.13, 0.11, 0.07, 0.04, 0.07, 0.19,
            0.26, 0.14, 0.16, 0.0]
s5f2_fits = [(0.0, -49.55, 11.48, -52.56), (4.68, -50.36, 5.38, -52.69),
             (5.36, -52.3, 7.5, -50.05)]
s5f2_cuts = [0.0, 4.69, 5.4, 7.5, 11.48]
s5f2_rings = [(3.01, 0.85, 1.41, 0.29)]

# ---------------- s5-f4 ----------------
s5f4_x = [5.68, 5.77, 5.88, 5.97, 6.08, 6.18, 6.32, 6.46, 6.55, 6.71,
          6.8, 6.94, 7.05, 7.15, 7.25, 7.34, 7.44, 7.55, 7.64, 7.74,
          7.84, 7.95, 8.04, 8.15, 8.25, 8.39, 8.49, 8.59, 8.68, 8.79,
          8.89, 8.99, 9.14, 9.23, 9.37, 9.47, 9.58, 9.68, 9.82, 9.92,
          10.02, 10.12, 10.22, 10.31, 10.46, 10.56, 10.66, 10.81, 10.95, 11.1,
          11.22, 11.32, 11.42, 11.57, 11.72, 11.86, 11.99, 12.13, 12.24, 12.38,
          12.52, 12.62, 12.76, 12.9, 13.04, 13.18, 13.33, 13.49]
s5f4_vel = [-49.86, -50.0, -50.16, -50.14, -50.01, -49.95, -49.97, -49.88, -50.33, -50.35,
            -50.49, -50.22, -50.85, -50.85, -50.73, -50.86, -50.86, -50.86, -51.09, -51.33,
            -51.46, -51.59, -51.73, -51.73, -51.59, -51.75, -51.81, -51.84, -51.49, -51.65,
            -51.78, -52.03, -51.27, -51.53, -52.1, -52.1, -50.23, -51.09, -50.48, -50.51,
            -50.33, -50.22, -50.3, -50.17, -50.21, -50.38, -50.57, -50.65, -50.58, -50.58,
            -50.64, -50.73, -50.7, -50.49, -50.41, -50.41, -50.37, -50.55, -50.49, -50.31,
            -50.11, -50.19, -50.11, -50.1, -50.1, -49.84, -49.65, -49.72]
s5f4_blue = [0.91, 0.86, 0.80, 0.80, 0.85, 0.88, 0.87, 0.91, 0.72, 0.71,
             0.65, 0.77, 0.51, 0.51, 0.56, 0.50, 0.50, 0.50, 0.41, 0.31,
             0.26, 0.20, 0.15, 0.16, 0.20, 0.14, 0.12, 0.10, 0.25, 0.19,
             0.12, 0.06, 0.34, 0.24, 0.0, 0.0, 0.77, 0.41, 0.66, 0.65,
             0.72, 0.77, 0.74, 0.79, 0.77, 0.70, 0.62, 0.59, 0.62, 0.62,
             0.59, 0.56, 0.57, 0.65, 0.69, 0.69, 0.70, 0.63, 0.65, 0.73,
             0.81, 0.78, 0.81, 0.81, 0.81, 0.92, 1.0, 0.97]
s5f4_red = [0.19, 0.17, 0.19, 0.20, 0.25, 0.23, 0.20, 0.12, 0.09, 0.10,
            0.14, 0.0, 0.04, 0.04, 0.01, 0.04, 0.12, 0.03, 0.16, 0.12,
            0.15, 0.12, 0.08, 0.09, 0.19, 0.16, 0.18, 0.17, 0.22, 0.29,
            0.31, 0.08, 0.19, 0.18, 0.04, 0.04, 0.03, 0.03, 0.14, 0.21,
            0.20, 0.32, 0.36, 0.37, 0.72, 0.65, 0.74, 0.93, 1.0, 1.0,
            0.89, 0.79, 0.71, 0.64, 0.61, 0.53, 0.47, 0.45, 0.54, 0.54,
            0.64, 0.65, 0.72, 0.64, 0.48, 0.34, 0.14, 0.01]
s5f4_fits = [(5.48, -49.65, 8.99, -52.04), (11.32, -50.73, 13.3, -49.96)]
s5f4_cuts = [9.0, 11.3, 13.31]
s5f4_rings = []

# ---------------- s5-f5 ----------------
s5f5_x = [3.86, 3.96, 4.06, 4.17, 4.32, 4.48, 4.58, 4.69, 4.81, 4.91,
          5.01, 5.12, 5.25, 5.36, 5.51, 5.64, 5.78, 5.89, 5.99, 6.09,
          6.19, 6.32, 6.44, 6.55, 6.67, 6.78, 6.9, 7.01, 7.13, 7.24,
          7.36, 7.47, 7.58, 7.7, 7.81, 7.93, 8.04, 8.16, 8.3, 8.42,
          8.53, 8.66, 8.79, 8.9, 9.02, 9.13, 9.25, 9.36, 9.48, 9.59,
          9.7, 9.82, 9.96, 10.08, 10.19, 10.31, 10.39, 10.48, 10.59, 10.71,
          10.82, 10.91, 11.02, 11.14, 11.22, 11.31, 11.4, 11.48, 11.6,
          11.8, 11.91, 12.03, 12.14, 12.25, 12.37, 12.48, 12.6, 12.69, 12.8,
          12.91, 13.03, 13.14, 13.26, 13.4, 13.54, 13.69, 13.8, 13.92, 14.03,
          14.15, 14.26, 14.38, 14.49, 14.58, 14.68, 14.78, 14.89, 15.03, 15.15,
          15.26, 15.38, 15.49, 15.61, 15.75, 15.89, 16.01, 16.12, 16.24, 16.35,
          16.47, 16.61, 16.72, 16.84, 16.95, 17.07, 17.18, 17.3, 17.41, 17.56,
          17.67, 17.79, 17.9, 18.01, 18.13, 18.24, 18.36, 18.47, 18.59, 18.7,
          18.82, 18.93, 19.05, 19.16, 19.27, 19.39, 19.5, 19.62, 19.73, 19.85,
          19.96, 20.08]
s5f5_vel = [-50.14, -49.94, -50.04, -49.96, -50.04, -50.14, -49.94, -50.02, -49.94, -50.02,
            -50.1, -50.35, -50.33, -50.69, -51.04, -50.69, -50.65, -50.84, -51.0, -51.08,
            -51.53, -51.47, -51.51, -51.51, -51.43, -51.57, -51.37, -51.2, -51.24, -51.37,
            -51.31, -51.67, -51.57, -51.47, -51.51, -51.43, -51.57, -51.47, -51.22, -51.22,
            -51.22, -51.24, -51.37, -51.39, -51.41, -51.8, -51.27, -51.8, -51.86, -52.25,
            -52.02, -52.29, -52.29, -51.94, -52.22, -52.29, -52.02, -52.69, -52.65, -52.33,
            -52.29, -51.37, -50.82, -50.82, -51.02, -51.57, -50.49, -50.29, -50.53,
            -52.53, -52.61, -52.49, -52.49, -52.37, -52.29, -52.25, -52.22, -52.45, -51.76,
            -52.12, -51.9, -51.67, -51.96, -51.31, -50.63, -51.39, -51.12, -51.24, -51.59,
            -51.9, -51.78, -51.51, -51.39, -51.39, -50.84, -50.06, -48.92, -47.98, -46.84,
            -46.73, -46.73, -46.53, -46.18, -45.88, -45.55, -45.49, -45.39, -45.59, -45.63,
            -45.75, -45.78, -45.67, -45.47, -45.47, -45.43, -45.51, -45.59, -45.63, -45.63,
            -45.59, -45.43, -45.47, -45.63, -45.94, -46.22, -46.37, -46.53, -46.53, -46.73,
            -46.57, -46.41, -46.29, -46.25, -46.22, -46.18, -46.25, -46.06, -45.71, -45.43,
            -45.47, -45.43]
s5f5_xb = [3.57, 3.67, 3.77, 3.9, 4.0, 4.15, 4.26, 4.4, 4.53, 4.65,
           4.83, 4.95, 5.11, 5.19, 5.31, 5.41, 5.52, 5.66, 5.78, 5.87,
           6.02, 6.12, 6.24, 6.35, 6.44, 6.55, 6.67, 6.78, 6.87, 6.98,
           7.1, 7.21, 7.33, 7.44, 7.56, 7.67, 7.79, 7.93, 8.04, 8.16,
           8.27, 8.39, 8.5, 8.62, 8.73, 8.87, 8.99, 9.1, 9.22, 9.33,
           9.48, 9.59, 9.7, 9.82, 9.96, 10.08, 10.19, 10.31, 10.42, 10.56,
           10.65, 10.77, 10.88, 10.99, 11.11, 11.2, 11.31, 11.4, 11.51, 11.62,
           11.74, 11.85, 11.97, 12.11, 12.23, 12.31, 12.43, 12.54, 12.66, 12.77,
           12.89, 13.0, 13.12, 13.23, 13.34, 13.46, 13.57, 13.69, 13.8, 13.92,
           14.03, 14.15, 14.26, 14.38, 14.49, 14.61, 14.72, 14.81, 14.92, 15.03,
           15.15, 15.26, 15.38, 15.49, 15.61, 15.69, 15.81, 15.92, 16.04, 16.15,
           16.27, 16.38, 16.5, 16.61, 16.73, 16.84, 16.95, 17.07, 17.18, 17.33,
           17.44, 17.56, 17.67, 17.79, 17.9, 18.01, 18.13, 18.24, 18.36, 18.47,
           18.59, 18.7, 18.82, 18.93, 19.05, 19.55, 19.67, 19.78, 19.9, 20.0]
s5f5_blue = [0.35, 0.37, 0.36, 0.36, 0.34, 0.36, 0.37, 0.36, 0.35, 0.33,
             0.33, 0.27, 0.25, 0.22, 0.26, 0.28, 0.24, 0.22, 0.20, 0.15,
             0.15, 0.16, 0.15, 0.16, 0.14, 0.16, 0.19, 0.20, 0.17, 0.12,
             0.13, 0.13, 0.15, 0.15, 0.14, 0.16, 0.16, 0.15, 0.18, 0.19,
             0.19, 0.19, 0.18, 0.17, 0.17, 0.17, 0.12, 0.11, 0.11, 0.08,
             0.05, 0.06, 0.05, 0.05, 0.09, 0.08, 0.04, 0.0, 0.01, 0.04,
             0.05, 0.17, 0.25, 0.25, 0.22, 0.15, 0.30, 0.32, 0.30, 0.03,
             0.01, 0.02, 0.02, 0.03, 0.04, 0.05, 0.06, 0.03, 0.10, 0.15,
             0.08, 0.13, 0.12, 0.19, 0.19, 0.28, 0.20, 0.21, 0.19, 0.15,
             0.12, 0.11, 0.14, 0.18, 0.22, 0.25, 0.52, 0.64, 0.80, 0.82,
             0.82, 0.82, 0.85, 0.90, 0.93, 0.95, 0.98, 0.99, 1.0, 0.97,
             0.96, 0.95, 0.95, 0.96, 0.99, 1.0, 1.0, 0.99, 0.98, 0.98,
             0.98, 0.98, 0.99, 1.0, 1.0, 0.93, 0.89, 0.87, 0.86, 0.85,
             0.83, 0.84, 0.87, 0.88, 0.89, 0.91, 0.94, 1.0, 0.98, 1.0]
s5f5_red = [0.29, 0.23, 0.31, 0.23, 0.31, 0.24, 0.24, 0.16, 0.24, 0.11,
            0.11, 0.17, 0.14, 0.25, 0.20, 0.22, 0.18, 0.11, 0.0, 0.08,
            0.08, 0.17, 0.17, 0.16, 0.17, 0.11, 0.10, 0.09, 0.14, 0.17,
            0.16, 0.14, 0.23, 0.21, 0.25, 0.29, 0.41, 0.46, 0.50, 0.50,
            0.44, 0.50, 0.40, 0.33, 0.43, 0.25, 0.33, 0.44, 0.40, 0.30,
            0.49, 0.34, 0.37, 0.26, 0.37, 0.32, 0.43, 0.42, 0.32, 0.43,
            0.57, 0.43, 0.43, 0.40, 0.40, 0.52, 0.50, 0.46, 0.28, 0.29,
            0.22, 0.25, 0.17, 0.17, 0.12, 0.14, 0.10, 0.16, 0.16, 0.18,
            0.22, 0.25, 0.20, 0.19, 0.11, 0.16, 0.17, 0.12, 0.12, 0.11,
            0.13, 0.15, 0.20, 0.18, 0.20, 0.18, 0.26, 0.41, 0.55, 0.48,
            0.49, 0.55, 0.54, 0.53, 0.46, 0.63, 0.71, 0.84, 0.92, 1.0,
            0.79, 0.64, 0.61, 0.44, 0.39, 0.37, 0.40, 0.40, 0.40, 0.24,
            0.15, 0.11, 0.24, 0.25, 0.29, 0.25, 0.26, 0.31, 0.43, 0.53,
            0.59, 0.67, 0.65, 0.58, 0.66, 0.37, 0.25, 0.30, nan, 0.0]
s5f5_fits = [(3.83, -50.25, 11.25, -52.25), (3.86, -50.35, 9.5, -51.85),
             (10.23, -52.73, 11.71, -50.18), (11.22, -52.53, 19.07, -45.0),
             (11.74, -52.88, 13.6, -51.27), (14.2, -52.02, 15.92, -45.0),
             (18.0, -45.88, 18.62, -46.82), (18.62, -46.82, 20.16, -45.43)]
s5f5_cuts = [4.02, 10.0, 11.5, 13.52, 13.99, 16.01, 17.81, 18.5, 20.0]
s5f5_rings = []

# panel layout: name, pixel box (left, top, right, middle, bottom), x range, v range, v step, x ticks
panels = [
    ('s4-f1', (54, 11, 465, 145, 278), (-0.48, 12.42), (-53, -49), 0.5, range(0, 13, 3),
     s4f1_x, s4f1_vel, s4f1_x, s4f1_blue, s4f1_red, s4f1_fits, s4f1_cuts, s4f1_rings),
    ('s4-f2', (513, 11, 928, 147, 282), (-0.89, 20.39), (-55, -51), 0.5, range(0, 19, 3),
     s4f2_x, s4f2_vel, s4f2_x, s4f2_blue, s4f2_red, s4f2_fits, s4f2_cuts, s4f2_rings),
    ('s4-f3', (968, 9, 1385, 145, 281), (-0.96, 22.04), (-60, -52.46), 1, range(0, 22, 3),
     s4f3_x, s4f3_vel, s4f3_x, s4f3_blue, s4f3_red, s4f3_fits, s4f3_cuts, s4f3_rings),
    ('s4-f4b', (55, 312, 465, 445, 578), (-0.63, 15.61), (-57.5, -54), 0.5, range(0, 16, 3),
     s4f4b_x, s4f4b_vel, s4f4b_x, s4f4b_blue, s4f4b_red, s4f4b_fits, s4f4b_cuts, s4f4b_rings),
    ('s4-f4r', (512, 314, 929, 448, 584), (14.61, 25.73), (-50, -45.5), 0.5, range(15, 25, 3),
     s4f4r_x, s4f4r_vel, s4f4r_xb, s4f4r_blue, s4f4r_red, s4f4r_fits, s4f4r_cuts, s4f4r_rings),
    ('s5-f1', (977, 313, 1386, 447, 580), (-0.48, 13.28), (-49.5, -47), 0.5, range(0, 13, 3),
     s5f1_x, s5f1_vel, s5f1_x, s5f1_blue, s5f1_red, s5f1_fits, s5f1_cuts, s5f1_rings),
    ('s5-f2', (54, 618, 462, 750, 882), (-0.59, 12.05), (-53.5, -49), 0.5, range(0, 13, 3),
     s5f2_x, s5f2_vel, s5f2_x, s5f2_blue, s5f2_red, s5f2_fits, s5f2_cuts, s5f2_rings),
    ('s5-f4', (509, 616, 930, 753, 890), (5.48, 13.51), (-52.5, -49.5), 0.5, range(6, 13, 3),
     s5f4_x, s5f4_vel, s5f4_x, s5f4_blue, s5f4_red, s5f4_fits, s5f4_cuts, s5f4_rings),
    ('s5-f5', (971, 618, 1391, 754, 890), (2.96, 21.0), (-53, -45), 1, range(3, 22, 3),
     s5f5_x, s5f5_vel, s5f5_xb, s5f5_blue, s5f5_red, s5f5_fits, s5f5_cuts, s5f5_rings),
]

plt.rcParams['font.size'] = 7
plt.rcParams['axes.edgecolor'] = '#555555'
plt.rcParams['axes.linewidth'] = 0.8

fig = plt.figure(figsize=(W / 100, H / 100), dpi=100)


def style(ax):
    ax.tick_params(labelsize=6.6, length=3, width=0.7, pad=2.5, colors='#222222')


for (name, box, xlim, vlim, vstep, xticks, xv, vel, xb, blue, red,
     fits, cuts, rings) in panels:
    L, T, R, M, B = box
    axb = fig.add_axes([L / W, 1 - B / H, (R - L) / W, (B - M) / H])
    axt = fig.add_axes([L / W, 1 - M / H, (R - L) / W, (M - T) / H], sharex=axb)

    n = min(len(xv), len(vel))
    axt.scatter(xv[:n], vel[:n], s=5, c='#0000ff', linewidths=0, zorder=3)
    for x0, y0, x1, y1 in fits:
        axt.plot([x0, x1], [y0, y1], ls=':', color='#e04040', lw=0.9, alpha=0.75)
    axt.set_ylim(vlim)
    axt.yaxis.set_major_locator(MultipleLocator(vstep))
    axt.tick_params(labelbottom=False)
    axt.set_ylabel('velocity(km/s)', fontsize=8, labelpad=1.5)
    axt.text(0.02, 0.07, name, transform=axt.transAxes, fontsize=14.5,
             family='Lato', va='baseline', zorder=5)
    style(axt)

    nb = min(len(xb), len(blue))
    nr = min(len(xb), len(red))
    axb.vlines(cuts, 0, 1.0, colors='#e02020', linestyles=':', lw=0.8, zorder=1)
    axb.scatter(xb[:nb], blue[:nb], s=5, c='#0000ff', linewidths=0, zorder=3)
    axb.scatter(xb[:nr], red[:nr], s=5, c='#ff0000', linewidths=0, zorder=3)
    for cx, cy, w, h in rings:
        axb.add_patch(Ellipse((cx, cy), w, h, fill=False, ec='#ffb000', lw=1.4, zorder=4))
    axb.set_xlim(xlim)
    axb.set_xticks(list(xticks))
    axb.set_ylim(-0.05, 1.05)
    axb.set_yticks([0.0, 0.4, 0.8])
    axb.set_xlabel('offset(pc)', fontsize=7.5, labelpad=0.5)
    style(axb)

fig.savefig('out.png', dpi=100)
